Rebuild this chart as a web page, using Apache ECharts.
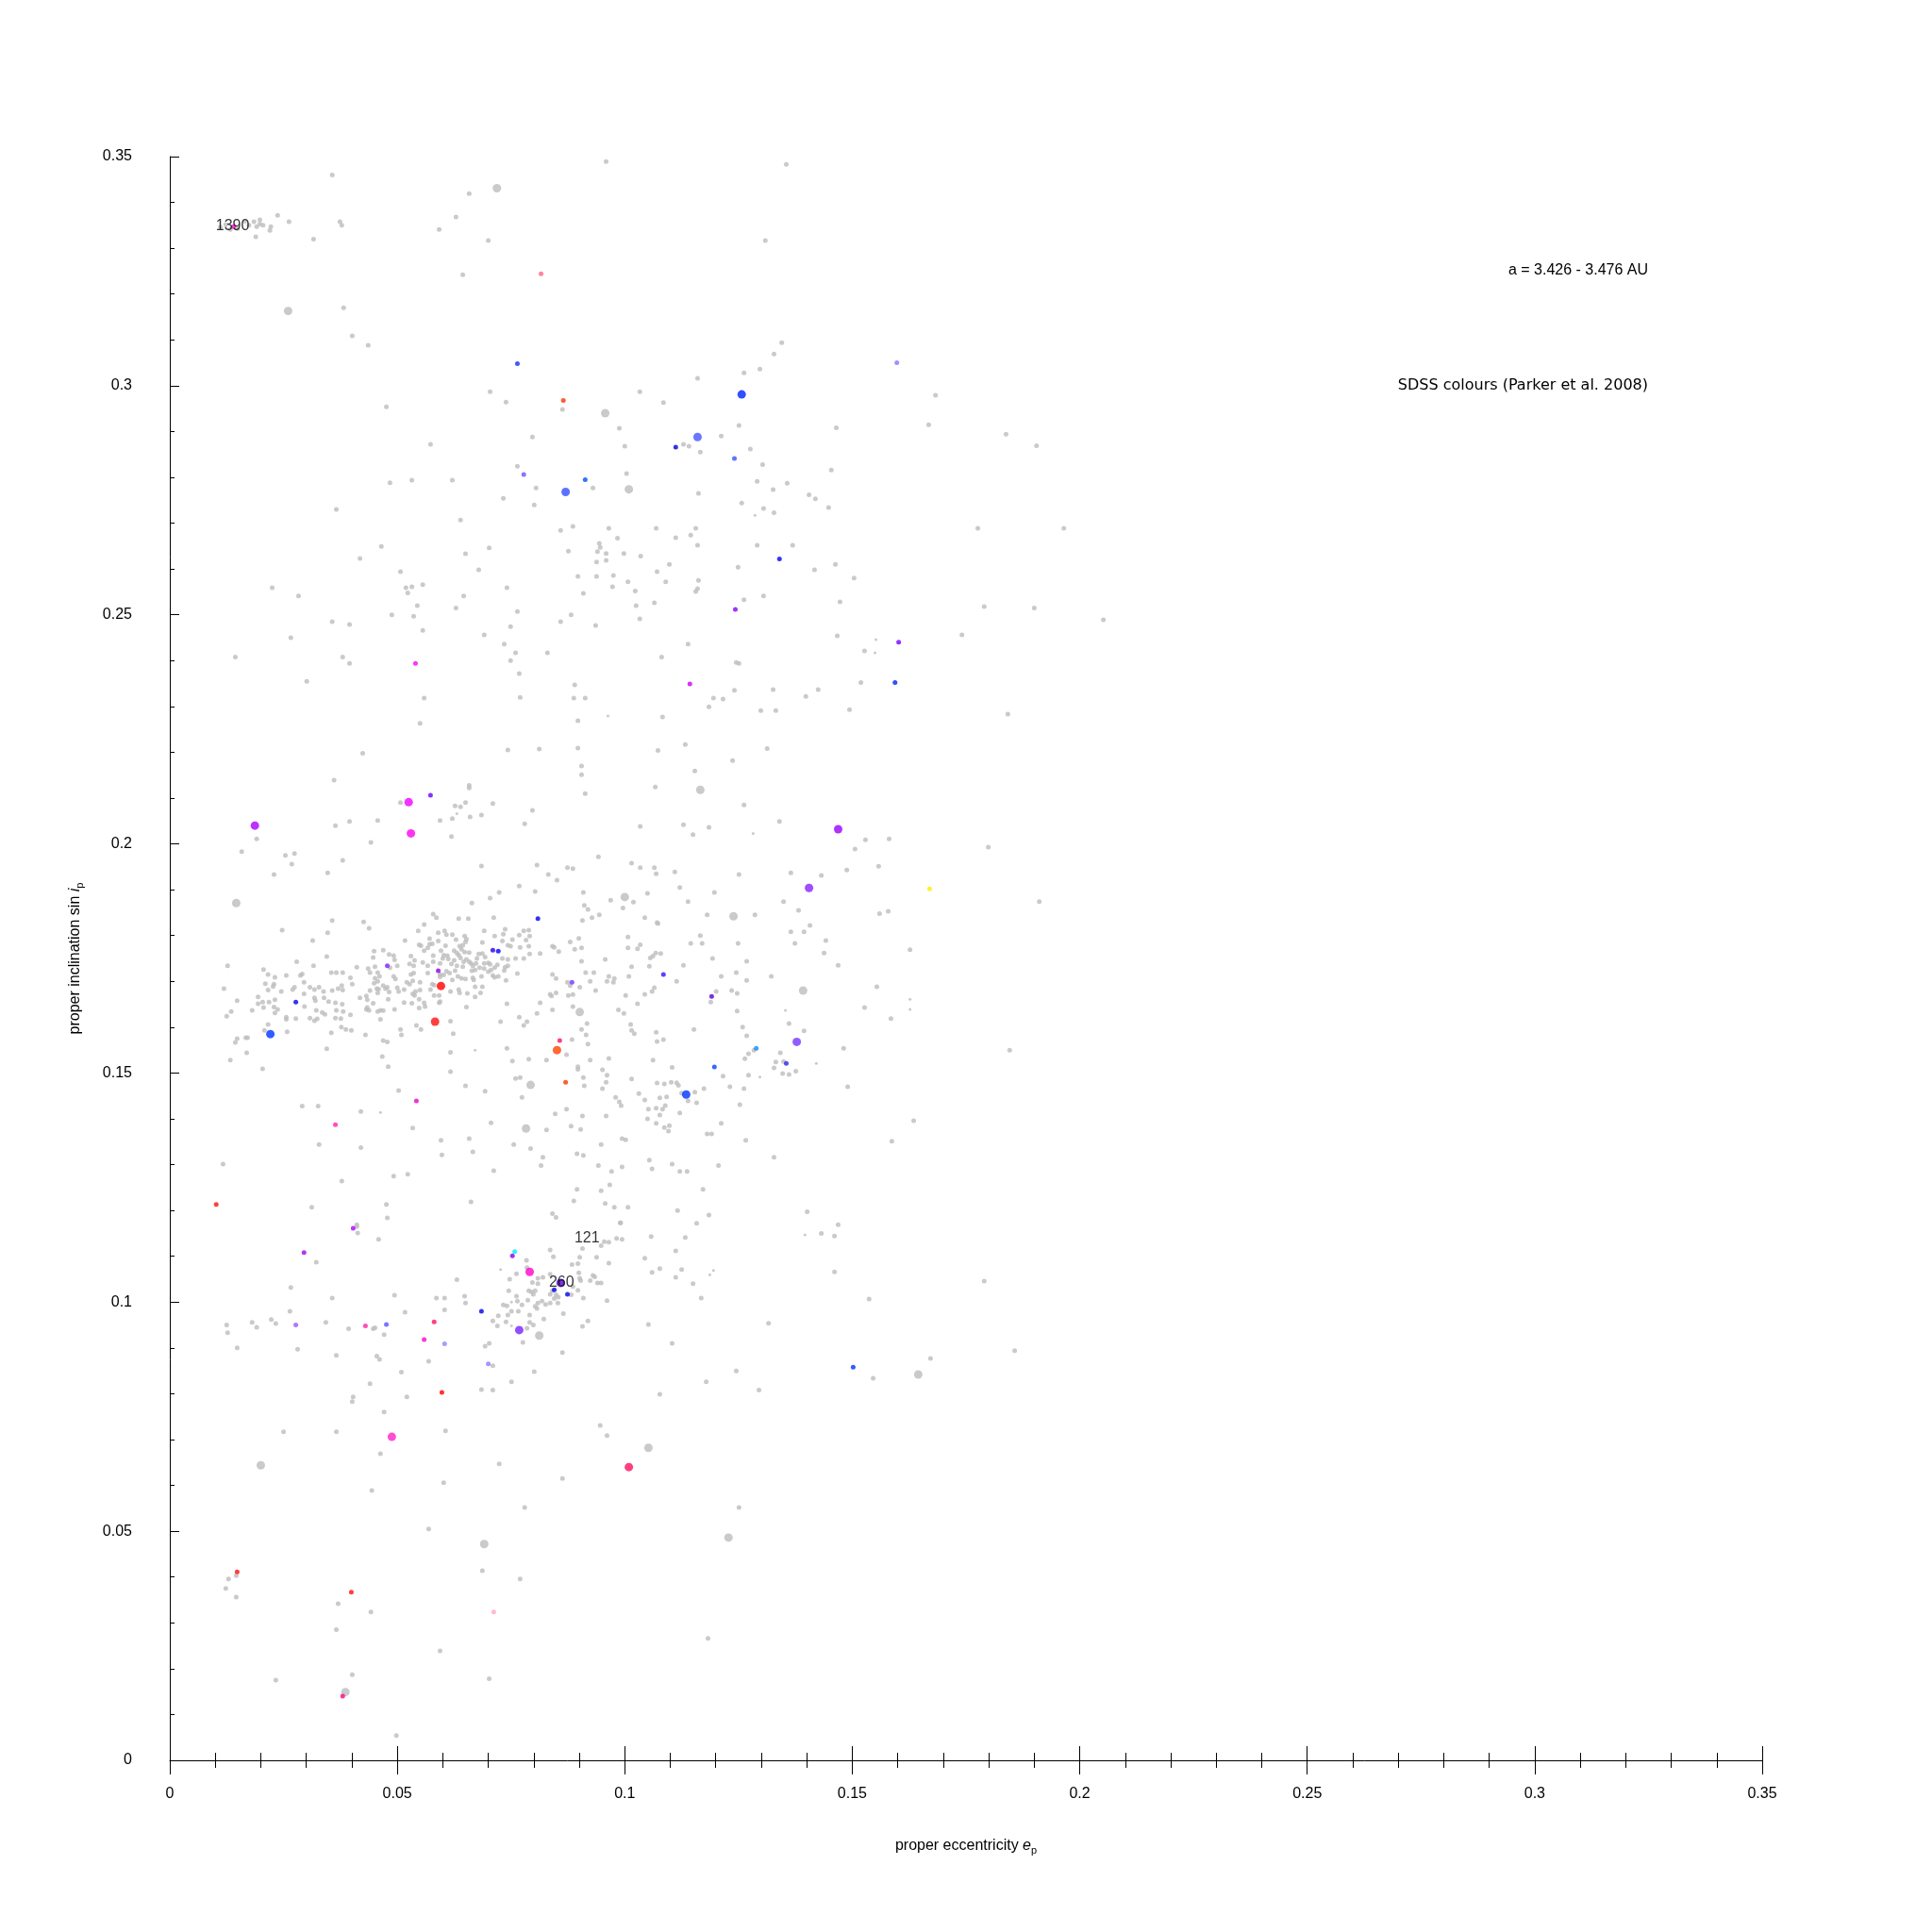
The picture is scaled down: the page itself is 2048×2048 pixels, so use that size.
<!DOCTYPE html>
<html><head><meta charset="utf-8">
<script src="https://cdn.jsdelivr.net/npm/echarts/dist/echarts.min.js"></script>
<style>html,body{margin:0;padding:0;background:#fff}#c{width:2048px;height:2048px}</style>
</head><body><div id="c"></div>
<script>
// proper eccentricity e_p, proper inclination sin i_p
const graySmall = [
[0.0357,0.3460],[0.0959,0.3489],[0.0658,0.3419],[0.0629,0.3368],[0.0592,0.3341],[0.0700,0.3317],[0.0237,0.3372],[0.0262,0.3358],[0.0374,0.3358],[0.0378,0.3350],[0.0316,0.3320],[0.0189,0.3325],[0.0222,0.3347],[0.0220,0.3339],
[0.0111,0.3346],[0.0123,0.3352],[0.0133,0.3341],[0.0165,0.3359],[0.0174,0.3350],[0.0185,0.3358],[0.0191,0.3347],[0.0198,0.3353],[0.0205,0.3350],[0.0198,0.3362],[0.0149,0.3343],
[0.0644,0.3242],[0.0382,0.3170],[0.0401,0.3109],[0.0436,0.3088],[0.0704,0.2987],[0.0739,0.2964],[0.0863,0.2948],[0.1033,0.2987],[0.0476,0.2954],[0.0797,0.2888],[0.0988,0.2907],[0.1000,0.2868],[0.0573,0.2872],[0.0764,0.2824],[0.0930,0.2777],[0.1004,0.2808],[0.0805,0.2777],[0.0733,0.2754],[0.0801,0.2740],[0.0484,0.2788],[0.0532,0.2794],[0.0621,0.2794],[0.0366,0.2730],[0.0639,0.2707],[0.0465,0.2649],[0.0418,0.2623],[0.0650,0.2633],[0.0702,0.2646],[0.0679,0.2598],[0.0507,0.2594],[0.0519,0.2559],[0.0523,0.2548],[0.0532,0.2561],[0.0556,0.2566],[0.0225,0.2559],[0.0283,0.2541],[0.0646,0.2541],[0.0741,0.2559],[0.0859,0.2684],[0.0886,0.2693],[0.0965,0.2689],[0.0984,0.2667],[0.0876,0.2639],[0.0944,0.2656],[0.0946,0.2647],[0.0940,0.2638],[0.0959,0.2634],[0.0998,0.2634],[0.0959,0.2619],[0.0938,0.2615],[0.1035,0.2628],[0.0897,0.2584],[0.0938,0.2584],[0.0975,0.2586],[0.0973,0.2561],[0.1007,0.2572],[0.1023,0.2552],[0.0909,0.2547],[0.1025,0.2520],[0.1033,0.2491],[0.0544,0.2520],[0.0629,0.2515],[0.0764,0.2507],[0.0488,0.2500],[0.0536,0.2497],[0.0357,0.2485],[0.0395,0.2479],[0.0859,0.2485],[0.0882,0.2500],[0.0936,0.2477],[0.0749,0.2474],[0.0556,0.2466],[0.0691,0.2456],[0.0266,0.2450],[0.0735,0.2436],[0.0760,0.2417],[0.0830,0.2417],[0.0749,0.2400],[0.0144,0.2408],[0.0380,0.2408],[0.0395,0.2394],[0.0768,0.2372],[0.0301,0.2355],[0.0890,0.2347],
[0.1355,0.3483],[0.1309,0.3317],[0.1345,0.3094],[0.1328,0.3069],[0.1297,0.3036],[0.1262,0.3028],[0.1160,0.3016],[0.1085,0.2963],[0.1683,0.2979],[0.1668,0.2915],[0.1838,0.2894],[0.1905,0.2869],[0.1251,0.2913],[0.1465,0.2908],[0.1212,0.2890],[0.1129,0.2872],[0.1141,0.2868],[0.1166,0.2855],[0.1276,0.2862],[0.1303,0.2828],[0.1454,0.2816],[0.1291,0.2791],[0.1326,0.2773],[0.1357,0.2787],[0.1405,0.2762],[0.1419,0.2753],[0.1448,0.2734],[0.1162,0.2765],[0.1257,0.2744],[0.1305,0.2732],[0.1328,0.2723],[0.1069,0.2689],[0.1156,0.2689],[0.1145,0.2674],[0.1112,0.2668],[0.1160,0.2652],[0.1291,0.2652],[0.1369,0.2652],[0.1776,0.2689],[0.1965,0.2689],[0.1098,0.2610],[0.1071,0.2594],[0.1090,0.2572],[0.1249,0.2604],[0.1417,0.2598],[0.1463,0.2610],[0.1504,0.2580],[0.1162,0.2575],[0.1160,0.2557],[0.1156,0.2551],[0.1065,0.2526],[0.1262,0.2533],[0.1305,0.2541],[0.1473,0.2528],[0.1790,0.2518],[0.1900,0.2515],[0.2052,0.2489],[0.1467,0.2454],[0.1527,0.2421],[0.1741,0.2456],[0.1139,0.2436],[0.1081,0.2408],[0.1245,0.2396],[0.1251,0.2394],[0.1519,0.2352],[0.1241,0.2335],[0.1326,0.2337],[0.1425,0.2337],
[0.0559,0.2318],[0.0770,0.2320],[0.0888,0.2318],[0.0913,0.2318],[0.0897,0.2269],[0.0550,0.2263],[0.0743,0.2205],[0.0812,0.2207],[0.0897,0.2209],[0.0424,0.2198],[0.0905,0.2170],[0.0905,0.2151],[0.0913,0.2110],[0.0361,0.2139],[0.0658,0.2128],[0.0658,0.2122],[0.0507,0.2090],[0.0627,0.2083],[0.0639,0.2081],[0.0650,0.2090],[0.0710,0.2088],[0.0621,0.2055],[0.0660,0.2059],[0.0685,0.2063],[0.0594,0.2051],[0.0797,0.2073],[0.0780,0.2044],[0.0191,0.2011],[0.0364,0.2040],[0.0395,0.2049],[0.0457,0.2051],[0.0442,0.2003],[0.0619,0.2016],[0.0158,0.1983],[0.0254,0.1975],[0.0274,0.1979],[0.0268,0.1956],[0.0229,0.1933],[0.0380,0.1964],[0.0347,0.1937],[0.0685,0.1952],[0.0807,0.1954],[0.0874,0.1948],[0.0886,0.1946],[0.0832,0.1933],[0.0851,0.1921],[0.0942,0.1972],[0.1015,0.1958],[0.1034,0.1948],[0.1034,0.2038],[0.0768,0.1908],[0.0803,0.1896],[0.0724,0.1894],[0.0704,0.1882],[0.0664,0.1871],[0.0909,0.1894],[0.0911,0.1866],[0.0919,0.1857],[0.0969,0.1877],[0.1019,0.1873],[0.0996,0.1860],[0.0944,0.1845],[0.0928,0.1839],[0.0907,0.1833],[0.0247,0.1812],[0.0357,0.1833],[0.0347,0.1806],[0.0314,0.1789],[0.0426,0.1830],[0.0438,0.1816],[0.0559,0.1824],[0.0579,0.1847],[0.0586,0.1839],[0.0546,0.1810],[0.0635,0.1837],[0.0656,0.1837],[0.0712,0.1839],[0.0590,0.1806],[0.0604,0.1810],[0.0608,0.1802],[0.0621,0.1802],[0.0648,0.1799],[0.0691,0.1810],[0.0714,0.1799],[0.0733,0.1803],[0.0737,0.1814],[0.0768,0.1801],[0.0778,0.1810],[0.0789,0.1812],[0.0791,0.1799],[0.0753,0.1791],[0.0731,0.1788],[0.0743,0.1779],[0.0749,0.1777],[0.0770,0.1774],[0.0789,0.1777],[0.0783,0.1790],[0.0687,0.1785],[0.0841,0.1777],[0.0845,0.1774],[0.0880,0.1786],[0.0899,0.1794],[0.0890,0.1770],[0.0905,0.1773],[0.0855,0.1765],[0.0814,0.1761],[0.0791,0.1760],[0.0778,0.1750],[0.0760,0.1750],[0.0731,0.1750],[0.0743,0.1748],[0.1007,0.1797],[0.1034,0.1780],[0.1028,0.1771],[0.1007,0.1773],[0.0957,0.1748],[0.0905,0.1744],[0.1015,0.1732],[0.0914,0.1719],[0.0932,0.1719],[0.1009,0.1711],[0.0965,0.1711],[0.0961,0.1700],[0.0977,0.1706],[0.0975,0.1698],[0.0924,0.1700],[0.0874,0.1698],[0.0880,0.1691],[0.0901,0.1687],[0.0841,0.1715],[0.0849,0.1706],[0.0936,0.1680],[0.0886,0.1671],[0.0876,0.1669],[0.0849,0.1675],[0.0836,0.1672],[0.0839,0.1668],[0.1002,0.1669],[0.1028,0.1651],[0.0814,0.1653],[0.0841,0.1638],[0.0807,0.1630],[0.0886,0.1645],[0.0986,0.1638],[0.0998,0.1630],[0.0768,0.1622],[0.0785,0.1612],[0.0778,0.1604],[0.0727,0.1612],[0.0741,0.1651],[0.0764,0.1717],[0.0739,0.1702],[0.0917,0.1608],[0.0905,0.1595],[0.0915,0.1583],[0.1013,0.1606],[0.1015,0.1593],[0.1021,0.1586],[0.0919,0.1563],[0.0884,0.1573],[0.0872,0.1540],[0.0741,0.1554],[0.0753,0.1526],[0.0789,0.1530],[0.0828,0.1528],[0.0924,0.1528],[0.0965,0.1532],[0.0897,0.1514],[0.0897,0.1508],[0.0951,0.1507],[0.0961,0.1495],[0.0959,0.1480],[0.0951,0.1466],[0.0909,0.1490],[0.0911,0.1472],[0.0760,0.1488],[0.0770,0.1490],[0.0774,0.1447],[0.0693,0.1460],[0.0650,0.1472],[0.0980,0.1447],[0.1015,0.1487],[0.0988,0.1437],[0.0992,0.1429],[0.1031,0.1455],[0.0872,0.1421],[0.0847,0.1411],[0.0907,0.1406],[0.0959,0.1406],[0.0882,0.1384],[0.0903,0.1377],[0.0828,0.1376],[0.0706,0.1391],[0.0994,0.1357],[0.1002,0.1354],[0.0948,0.1344],[0.0895,0.1324],[0.0909,0.1320],[0.0942,0.1298],[0.0971,0.1285],[0.0994,0.1295],[0.0967,0.1256],[0.0948,0.1243],[0.0895,0.1246],[0.0888,0.1221],[0.0957,0.1215],[0.0977,0.1207],[0.1007,0.1207],[0.0841,0.1193],[0.0849,0.1185],[0.0990,0.1173],[0.0820,0.1316],[0.0816,0.1298],[0.0793,0.1335],[0.0756,0.1344],[0.0658,0.1357],[0.0666,0.1328],[0.0596,0.1353],[0.0598,0.1321],[0.0712,0.1287],[0.0662,0.1219],[0.0523,0.1279],[0.0492,0.1275],[0.0378,0.1264],[0.0312,0.1207],[0.0117,0.1301],[0.0476,0.1213],[0.0478,0.1184],[0.0411,0.1169],[0.0328,0.1344],[0.0420,0.1337],[0.0291,0.1428],[0.0326,0.1428],[0.0420,0.1416],[0.0503,0.1462],[0.0534,0.1380],
[0.0127,0.1734],[0.0119,0.1684],[0.0148,0.1658],[0.0135,0.1634],[0.0125,0.1624],[0.0181,0.1637],[0.0194,0.1666],[0.0194,0.1651],[0.0206,0.1726],[0.0216,0.1715],[0.0231,0.1709],[0.0210,0.1695],[0.0216,0.1681],[0.0229,0.1694],[0.0227,0.1689],[0.0245,0.1678],[0.0256,0.1713],[0.0279,0.1743],[0.0287,0.1713],[0.0291,0.1716],[0.0295,0.1698],[0.0270,0.1682],[0.0274,0.1687],[0.0295,0.1673],[0.0308,0.1687],[0.0318,0.1682],[0.0328,0.1687],[0.0338,0.1678],[0.0355,0.1719],[0.0366,0.1719],[0.0380,0.1719],[0.0378,0.1691],[0.0370,0.1684],[0.0380,0.1681],[0.0357,0.1680],[0.0345,0.1754],[0.0316,0.1734],[0.0397,0.1708],[0.0401,0.1694],[0.0411,0.1731],[0.0204,0.1655],[0.0206,0.1643],[0.0218,0.1655],[0.0231,0.1660],[0.0229,0.1644],[0.0237,0.1639],[0.0231,0.1631],[0.0256,0.1622],[0.0256,0.1617],[0.0277,0.1619],[0.0296,0.1645],[0.0318,0.1664],[0.0320,0.1658],[0.0339,0.1664],[0.0349,0.1656],[0.0322,0.1637],[0.0324,0.1618],[0.0308,0.1620],[0.0318,0.1614],[0.0335,0.1632],[0.0341,0.1628],[0.0364,0.1653],[0.0366,0.1637],[0.0379,0.1650],[0.0381,0.1634],[0.0364,0.1620],[0.0376,0.1619],[0.0397,0.1627],[0.0355,0.1588],[0.0377,0.1600],[0.0387,0.1595],[0.0399,0.1593],[0.0258,0.1590],[0.0167,0.1577],[0.0171,0.1577],[0.0148,0.1575],[0.0144,0.1567],[0.0169,0.1544],[0.0133,0.1528],[0.0204,0.1509],[0.0216,0.1606],[0.0208,0.1593],[0.0345,0.1553],
[0.0418,0.1664],[0.0436,0.1728],[0.0451,0.1732],[0.0449,0.1766],[0.0447,0.1752],[0.0440,0.1719],[0.0457,0.1719],[0.0461,0.1711],[0.0451,0.1707],[0.0457,0.1700],[0.0469,0.1768],[0.0482,0.1759],[0.0492,0.1756],[0.0494,0.1747],[0.0484,0.1730],[0.0500,0.1734],[0.0517,0.1789],[0.0492,0.1711],[0.0496,0.1705],[0.0469,0.1691],[0.0474,0.1684],[0.0482,0.1677],[0.0478,0.1687],[0.0449,0.1696],[0.0455,0.1684],[0.0440,0.1680],[0.0432,0.1668],[0.0434,0.1660],[0.0457,0.1675],[0.0459,0.1683],[0.0500,0.1686],[0.0503,0.1678],[0.0515,0.1682],[0.0521,0.1698],[0.0527,0.1694],[0.0534,0.1701],[0.0530,0.1715],[0.0536,0.1718],[0.0550,0.1698],[0.0540,0.1678],[0.0550,0.1681],[0.0534,0.1673],[0.0538,0.1669],[0.0527,0.1738],[0.0530,0.1755],[0.0538,0.1746],[0.0536,0.1734],[0.0548,0.1780],[0.0552,0.1778],[0.0559,0.1767],[0.0567,0.1773],[0.0571,0.1781],[0.0571,0.1793],[0.0556,0.1741],[0.0567,0.1734],[0.0567,0.1718],[0.0579,0.1756],[0.0579,0.1743],[0.0594,0.1739],[0.0600,0.1750],[0.0602,0.1757],[0.0610,0.1756],[0.0612,0.1749],[0.0594,0.1715],[0.0602,0.1714],[0.0608,0.1722],[0.0615,0.1718],[0.0594,0.1710],[0.0581,0.1692],[0.0573,0.1682],[0.0592,0.1669],[0.0577,0.1694],[0.0548,0.1661],[0.0559,0.1653],[0.0548,0.1642],[0.0532,0.1652],[0.0515,0.1654],[0.0494,0.1639],[0.0480,0.1661],[0.0463,0.1637],[0.0469,0.1636],[0.0457,0.1634],[0.0434,0.1643],[0.0432,0.1639],[0.0438,0.1637],[0.0447,0.1652],[0.0463,0.1617],[0.0430,0.1583],[0.0507,0.1595],[0.0509,0.1583],[0.0469,0.1571],[0.0478,0.1568],[0.0467,0.1536],[0.0480,0.1514],[0.0542,0.1604],[0.0552,0.1595],[0.0561,0.1645],[0.0592,0.1653],[0.0594,0.1656],[0.0581,0.1669],[0.0617,0.1678],[0.0617,0.1613],[0.0623,0.1586],[0.0617,0.1545],[0.0617,0.1503],[0.0652,0.1644],[0.0635,0.1682],[0.0637,0.1675],[0.0654,0.1674],[0.0671,0.1666],[0.0683,0.1675],[0.0671,0.1688],[0.0687,0.1688],[0.0621,0.1703],[0.0633,0.1711],[0.0641,0.1707],[0.0650,0.1705],[0.0666,0.1708],[0.0668,0.1703],[0.0627,0.1723],[0.0631,0.1734],[0.0644,0.1732],[0.0619,0.1738],[0.0625,0.1746],[0.0635,0.1757],[0.0639,0.1751],[0.0646,0.1743],[0.0652,0.1748],[0.0658,0.1743],[0.0662,0.1739],[0.0666,0.1734],[0.0673,0.1739],[0.0664,0.1723],[0.0671,0.1725],[0.0681,0.1730],[0.0625,0.1767],[0.0631,0.1762],[0.0641,0.1770],[0.0637,0.1777],[0.0644,0.1779],[0.0648,0.1764],[0.0629,0.1791],[0.0606,0.1778],[0.0596,0.1767],[0.0590,0.1788],[0.0577,0.1782],[0.0650,0.1786],[0.0652,0.1792],[0.0658,0.1763],[0.0675,0.1750],[0.0687,0.1761],[0.0691,0.1739],[0.0700,0.1740],[0.0704,0.1737],[0.0679,0.1760],[0.0706,0.1725],[0.0714,0.1730],[0.0710,0.1713],[0.0714,0.1709],[0.0720,0.1736],[0.0722,0.1711],[0.0735,0.1724],[0.0737,0.1731],[0.0743,0.1734],[0.0691,0.1728],[0.0685,0.1711],[0.0700,0.1721],[0.0693,0.1753],
[0.1398,0.2322],[0.1195,0.2318],[0.1216,0.2316],[0.1185,0.2299],[0.1299,0.2291],[0.1332,0.2291],[0.1494,0.2293],[0.1842,0.2283],[0.1083,0.2277],[0.1073,0.2204],[0.1133,0.2217],[0.1313,0.2208],[0.1237,0.2182],[0.1154,0.2159],[0.1067,0.2124],[0.1262,0.2085],[0.1129,0.2042],[0.1185,0.2036],[0.1150,0.2020],[0.1340,0.2049],[0.1529,0.2009],[0.1581,0.2011],[0.1506,0.1989],[0.1799,0.1993],[0.1065,0.1948],[0.1069,0.1935],[0.1110,0.1939],[0.1251,0.1933],[0.1365,0.1937],[0.1432,0.1931],[0.1488,0.1943],[0.1558,0.1951],[0.1911,0.1874],[0.1050,0.1892],[0.1121,0.1905],[0.1197,0.1894],[0.1139,0.1874],[0.1349,0.1874],[0.1382,0.1855],[0.1044,0.1839],[0.1071,0.1828],[0.1073,0.1826],[0.1181,0.1845],[0.1286,0.1845],[0.1560,0.1848],[0.1579,0.1853],[0.1407,0.1822],[0.1365,0.1808],[0.1394,0.1808],[0.1166,0.1800],[0.1145,0.1783],[0.1170,0.1783],[0.1249,0.1783],[0.1374,0.1783],[0.1442,0.1789],[0.1438,0.1762],[0.1627,0.1769],[0.1068,0.1762],[0.1079,0.1761],[0.1062,0.1755],[0.1056,0.1751],[0.1054,0.1733],[0.1129,0.1735],[0.1193,0.1750],[0.1268,0.1744],[0.1469,0.1735],[0.1114,0.1700],[0.1212,0.1711],[0.1245,0.1719],[0.1268,0.1702],[0.1322,0.1711],[0.1065,0.1686],[0.1060,0.1678],[0.1044,0.1672],[0.1189,0.1655],[0.1201,0.1678],[0.1235,0.1680],[0.1247,0.1674],[0.1554,0.1688],[0.1527,0.1643],[0.1585,0.1619],[0.1247,0.1635],[0.1361,0.1608],[0.1394,0.1592],[0.1152,0.1595],[0.1259,0.1600],[0.1268,0.1581],[0.1069,0.1589],[0.1071,0.1569],[0.1085,0.1573],[0.1481,0.1554],[0.1284,0.1550],[0.1272,0.1542],[0.1264,0.1531],[0.1342,0.1544],[0.1332,0.1524],[0.1328,0.1511],[0.1349,0.1525],[0.1376,0.1504],[0.1361,0.1497],[0.1347,0.1499],[0.1272,0.1495],[0.1216,0.1493],[0.1062,0.1528],[0.1104,0.1512],[0.1071,0.1478],[0.1087,0.1476],[0.1102,0.1480],[0.1114,0.1479],[0.1118,0.1473],[0.1125,0.1456],[0.1154,0.1458],[0.1174,0.1466],[0.1231,0.1470],[0.1262,0.1466],[0.1490,0.1470],[0.1139,0.1439],[0.1158,0.1435],[0.1044,0.1441],[0.1077,0.1446],[0.1092,0.1448],[0.1052,0.1421],[0.1069,0.1423],[0.1083,0.1421],[0.1089,0.1429],[0.1077,0.1408],[0.1121,0.1413],[0.1253,0.1431],[0.1050,0.1400],[0.1069,0.1390],[0.1087,0.1381],[0.1098,0.1385],[0.1096,0.1373],[0.1212,0.1390],[0.1181,0.1367],[0.1191,0.1367],[0.1266,0.1353],[0.1635,0.1396],[0.1587,0.1351],[0.1846,0.1550],[0.1328,0.1316],[0.1054,0.1310],[0.1060,0.1291],[0.1104,0.1301],[0.1121,0.1285],[0.1137,0.1285],[0.1206,0.1298],[0.1172,0.1246],[0.1116,0.1200],[0.1185,0.1190],[0.1158,0.1172],[0.1401,0.1197],[0.1469,0.1169],
[0.0411,0.1165],[0.0413,0.1151],[0.0459,0.1137],[0.0322,0.1087],[0.0266,0.1032],[0.0357,0.1009],[0.0264,0.0980],[0.0494,0.1015],[0.0517,0.0978],[0.0631,0.1049],[0.0586,0.1009],[0.0604,0.1009],[0.0604,0.0983],[0.0648,0.1013],[0.0650,0.0998],[0.0125,0.0950],[0.0127,0.0933],[0.0148,0.0900],[0.0181,0.0956],[0.0191,0.0945],[0.0223,0.0962],[0.0233,0.0953],[0.0281,0.0897],[0.0343,0.0956],[0.0393,0.0942],[0.0447,0.0942],[0.0451,0.0944],[0.0471,0.0929],[0.0366,0.0884],[0.0455,0.0882],[0.0461,0.0875],[0.0509,0.0847],[0.0440,0.0822],[0.0403,0.0793],[0.0401,0.0783],[0.0521,0.0793],[0.0471,0.0760],[0.0569,0.0871],[0.0606,0.0719],[0.0250,0.0717],[0.0366,0.0717],[0.0463,0.0669],[0.0444,0.0589],[0.0602,0.0606],[0.0569,0.0505],[0.0687,0.0414],[0.0770,0.0396],[0.0129,0.0396],[0.0146,0.0403],[0.0123,0.0375],[0.0146,0.0356],[0.0370,0.0342],[0.0442,0.0324],[0.0366,0.0285],[0.0594,0.0239],[0.0233,0.0175],[0.0401,0.0187],[0.0702,0.0178],[0.0498,0.0054],
[0.0784,0.1091],[0.0785,0.1075],[0.0762,0.1062],[0.0747,0.1050],[0.0745,0.1025],[0.0762,0.1013],[0.0764,0.1002],[0.0733,0.0994],[0.0741,0.0992],[0.0751,0.0980],[0.0766,0.0980],[0.0743,0.0972],[0.0722,0.0970],[0.0710,0.0959],[0.0739,0.0957],[0.0720,0.0948],[0.0785,0.0943],[0.0776,0.0912],[0.0693,0.0904],[0.0702,0.0910],[0.0710,0.0861],[0.0751,0.0826],[0.0685,0.0809],[0.0710,0.0808],[0.0801,0.0848],[0.0863,0.0890],[0.0863,0.0615],[0.0724,0.0647],[0.0780,0.0552],[0.0946,0.0731],[0.0961,0.0709],[0.0774,0.0994],[0.0787,0.1004],[0.0789,0.1025],[0.0795,0.1022],[0.0799,0.1017],[0.0803,0.1025],[0.0797,0.1043],[0.0809,0.1052],[0.0809,0.1040],[0.0820,0.1054],[0.0791,0.0956],[0.0799,0.0950],[0.0791,0.0972],[0.0809,0.0998],[0.0818,0.1002],[0.0826,0.0995],[0.0803,0.0991],[0.0807,0.0986],[0.0822,0.0963],[0.0836,0.1114],[0.0843,0.1099],[0.0836,0.1061],[0.0836,0.1017],[0.0841,0.1025],[0.0849,0.1016],[0.0854,0.1011],[0.0853,0.0998],[0.0845,0.1008],[0.0836,0.0998],[0.0865,0.0975],[0.0882,0.1016],[0.0886,0.1034],[0.0899,0.1064],[0.0901,0.1052],[0.0903,0.1047],[0.0897,0.1084],[0.0884,0.1082],[0.0901,0.1098],[0.0907,0.1117],[0.0897,0.1026],[0.0909,0.1009],[0.0924,0.1047],[0.0930,0.1058],[0.0934,0.1055],[0.0938,0.1098],[0.0940,0.1042],[0.0948,0.1042],[0.0948,0.1123],[0.0955,0.1132],[0.0965,0.1131],[0.0982,0.1139],[0.0994,0.1137],[0.0991,0.1173],[0.0965,0.1085],[0.0961,0.1003],[0.0919,0.0959],[0.0907,0.0947],
[0.1058,0.1143],[0.1133,0.1141],[0.1432,0.1150],[0.1461,0.1144],[0.1112,0.1112],[0.1044,0.1096],[0.1060,0.1065],[0.1077,0.1073],[0.1125,0.1071],[0.1112,0.1054],[0.1150,0.1040],[0.1168,0.1009],[0.1461,0.1066],[0.1790,0.1046],[0.1537,0.1007],[0.1052,0.0951],[0.1316,0.0954],[0.1104,0.0910],[0.1245,0.0850],[0.1179,0.0826],[0.1077,0.0799],[0.1295,0.0808],[0.1546,0.0834],[0.1672,0.0877],[0.1857,0.0894],[0.1251,0.0552],[0.1183,0.0266]
];
const grayLarge = [
[0.0719,0.3431],[0.0260,0.3163],[0.0957,0.2940],[0.1009,0.2774],[0.0146,0.1871],[0.1000,0.1884],[0.0901,0.1633],[0.0793,0.1474],[0.0783,0.1379],[0.1166,0.2118],[0.1239,0.1842],[0.1392,0.1680],[0.0200,0.0644],[0.0691,0.0472],[0.0812,0.0927],[0.0386,0.0149],[0.1645,0.0842],[0.1052,0.0682],[0.1228,0.0486]
];
const grayTiny = [
[0.1286,0.2717],[0.1552,0.2446],[0.1550,0.2417],[0.0963,0.2279],[0.0631,0.2066],[0.0671,0.1550],[0.0463,0.1414],[0.1282,0.2023],[0.1627,0.1661],[0.1627,0.1639],[0.1353,0.1637],[0.1421,0.1521],[0.1297,0.1491],[0.0727,0.1071],[0.0751,0.1000],[0.0751,0.0948],[0.1396,0.1147],[0.1187,0.1060],[0.1195,0.1069]
];
// SDSS-coloured asteroids: position, colour, size class (1 = large)
const colPts = [
[0.0140,0.3347],[0.0816,0.3244],[0.0764,0.3048],[0.0865,0.2968],[0.0778,0.2806],[0.0913,0.2795],[0.0870,0.2768],[0.0540,0.2394],[0.1598,0.3050],[0.1257,0.2981],[0.1160,0.2888],[0.1112,0.2866],[0.1241,0.2841],[0.1340,0.2622],[0.1243,0.2512],[0.1602,0.2440],[0.1143,0.2349],[0.1594,0.2352],[0.0573,0.2106],[0.0525,0.2091],[0.0187,0.2040],[0.0530,0.2023],[0.0809,0.1837],[0.0710,0.1768],[0.0722,0.1766],[0.0884,0.1698],[0.0857,0.1571],[0.0851,0.1550],[0.0870,0.1480],[0.0102,0.1213],[0.0364,0.1387],[0.0542,0.1439],[0.0277,0.1655],[0.0221,0.1585],[0.0478,0.1734],[0.0590,0.1723],[0.0596,0.1690],[0.0583,0.1612],[0.1469,0.2032],[0.1405,0.1904],[0.1670,0.1902],[0.1085,0.1715],[0.1191,0.1667],[0.1378,0.1568],[0.1289,0.1554],[0.1197,0.1513],[0.1355,0.1521],[0.1135,0.1453],[0.0403,0.1161],[0.0295,0.1108],[0.0685,0.0980],[0.0277,0.0950],[0.0430,0.0948],[0.0476,0.0951],[0.0581,0.0957],[0.0559,0.0918],[0.0604,0.0909],[0.0598,0.0803],[0.0488,0.0706],[0.0148,0.0411],[0.0399,0.0367],[0.0712,0.0324],[0.0380,0.0140],[0.0758,0.1110],[0.0753,0.1101],[0.0791,0.1066],[0.0768,0.0939],[0.0700,0.0865],[0.1009,0.0640],[0.0845,0.1027],[0.0859,0.1042],[0.0874,0.1017],[0.1502,0.0858]
];
const colHex = [
'#ff00cc','#ff6688','#1030ff','#ff3000','#6655ff','#0050ff','#3050ff','#ff00ff','#8877ff','#0020ff','#4455ff','#0000dd','#3355ff','#0000ff','#8800ff','#7700ff','#cc00ee','#0020ff','#6600ff','#ee00ff','#aa00ff','#ff00ee','#0000ee','#2200ee','#0000ff','#7733ff','#ff1060','#ff4400','#ff3300','#ff1010','#ff22aa','#ee00cc','#0000ee','#0033ff','#7722ff','#8800ee','#ff0000','#ff1010','#9900ff','#8822ff','#ffee00','#3311ff','#5500dd','#7733ff','#1188ff','#0044ff','#3322ee','#0033ff','#aa00ff','#aa00ee','#0000ee','#9955ff','#ff22aa','#5555ff','#ff1060','#ff00cc','#8888ff','#ff0000','#ff22cc','#ff1010','#ff1010','#ffaacc','#ff0088','#00eeff','#8800ee','#ff00cc','#7722ff','#9977ff','#ff1060','#0000ee','#5500dd','#0000ee','#0033ff'
];
const colBig = [
0,0,0,0,0,0,1,0,0,1,1,0,0,0,0,0,0,0,0,1,1,1,0,0,0,0,0,1,0,0,0,0,0,1,0,0,1,1,1,1,0,0,0,1,0,0,0,1,0,0,0,0,0,0,0,0,0,0,1,0,0,0,0,0,0,1,1,0,1,0,1,0,0
];
const labelNames = ['1390','121','260'];
const labelPts = [[0.0138,0.3352],[0.0917,0.1144],[0.0861,0.1046]];
const annotations = ['a = 3.426 - 3.476 AU','SDSS colours (Parker et al. 2008)'];

const chart = echarts.init(document.getElementById('c'), null, {renderer:'canvas'});
const F = 'Liberation Sans, Arial, sans-serif';
const GRAY = '#bdbdbd';
const tickCommon = {
  type:'value', min:0, max:0.35, interval:0.05, splitLine:{show:false}
};
const nameStyle = {fontFamily:F, fontSize:16, color:'#000',
  rich:{it:{fontFamily:F, fontSize:16, fontStyle:'italic', color:'#000'},
        sub:{fontFamily:F, fontSize:11, color:'#000', padding:[10,0,0,0]}}};
chart.setOption({
  animation:false,
  backgroundColor:'#ffffff',
  grid:{left:180, right:180, top:166, bottom:182, containLabel:false},
  xAxis:[Object.assign({}, tickCommon, {
    position:'bottom',
    axisLine:{show:true, onZero:false, lineStyle:{color:'#000', width:1}},
    axisTick:{show:true, inside:true, length:15, lineStyle:{color:'#000', width:1}},
    minorTick:{show:true, splitNumber:5, length:8, lineStyle:{color:'#000', width:1}},
    axisLabel:{margin:28, fontFamily:F, fontSize:16, color:'#000'},
    name:'proper eccentricity {it|e}{sub|p}', nameLocation:'middle', nameGap:80,
    nameTextStyle:nameStyle
  }), Object.assign({}, tickCommon, {
    position:'bottom',
    axisLine:{show:false},
    axisTick:{show:true, inside:false, length:15, lineStyle:{color:'#000', width:1}},
    minorTick:{show:true, splitNumber:5, length:8, lineStyle:{color:'#000', width:1}},
    axisLabel:{show:false}
  })],
  yAxis:[Object.assign({}, tickCommon, {
    position:'left',
    axisLine:{show:true, onZero:false, lineStyle:{color:'#000', width:1}},
    axisTick:{show:true, inside:true, length:10, lineStyle:{color:'#000', width:1}},
    minorTick:{show:true, splitNumber:5, length:5, lineStyle:{color:'#000', width:1}},
    axisLabel:{margin:40, fontFamily:F, fontSize:16, color:'#000'},
    name:'proper inclination sin {it|i}{sub|p}', nameLocation:'middle', nameGap:90, nameRotate:90,
    nameTextStyle:nameStyle
  })],
  series:[
    {type:'scatter', xAxisIndex:0, yAxisIndex:0, data:grayTiny, symbol:'circle', symbolSize:3, itemStyle:{color:GRAY}, silent:true, z:2},
    {type:'scatter', xAxisIndex:0, yAxisIndex:0, data:graySmall, symbol:'circle', symbolSize:5, itemStyle:{color:GRAY}, silent:true, z:2},
    {type:'scatter', xAxisIndex:0, yAxisIndex:0, data:grayLarge, symbol:'circle', symbolSize:9, itemStyle:{color:GRAY}, silent:true, z:2},
    {type:'scatter', xAxisIndex:0, yAxisIndex:0, silent:true, z:3,
      data: colPts.map((p,k)=>({value:p, symbolSize: colBig[k] ? 9 : 5, itemStyle:{color:colHex[k]}})), symbol:'circle'},
    {type:'scatter', xAxisIndex:0, yAxisIndex:0, silent:true, z:5,
      data: labelPts.map((p,k)=>({value:p, name:labelNames[k]})), symbolSize:1,
      itemStyle:{color:'rgba(0,0,0,0)'},
      label:{show:true, position:'inside', offset:[0,2], formatter:'{b}', fontFamily:F, fontSize:16, color:'#000'}}
  ],
  graphic:[
    {type:'text', right:301, top:279, style:{text:annotations[0], font:'16px '+F, fill:'#000'}},
    {type:'text', right:301, top:401, style:{text:annotations[1], font:'16px DejaVu Sans, sans-serif', fill:'#000'}}
  ]
});
</script>
</body></html>
